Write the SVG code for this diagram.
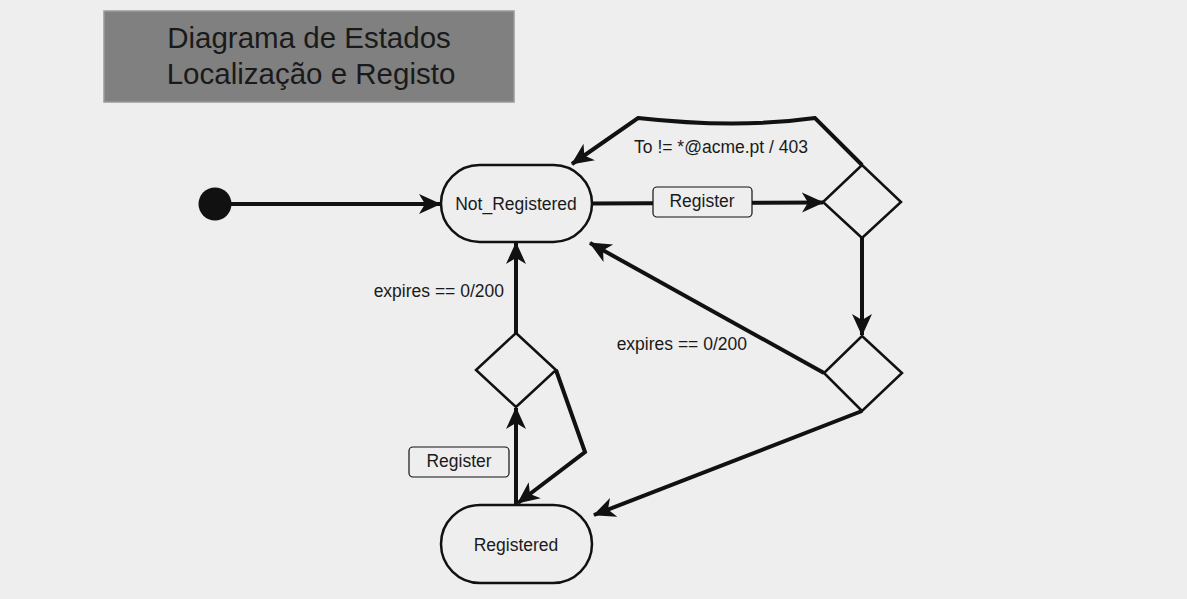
<svg xmlns="http://www.w3.org/2000/svg" width="1187" height="599" viewBox="0 0 1187 599">
<defs>
<style>
text{font-family:"Liberation Sans",Arial,sans-serif;fill:#1a1a1a}
.lbl{font-size:17.5px}
.title{font-size:29.5px;text-anchor:middle}
.state{fill:#eeeeee;stroke:#111;stroke-width:2.5}
.dec{fill:#eeeeee;stroke:#111;stroke-width:2.5}
.tag{fill:#eeeeee;stroke:#111;stroke-width:1.2}
.edge{fill:none;stroke:#111;stroke-width:4;stroke-linejoin:miter}
.arr{marker-end:url(#ah)}
</style>
<marker id="ah" markerUnits="userSpaceOnUse" viewBox="0 0 22 22" refX="21" refY="11" markerWidth="22" markerHeight="22" orient="auto">
<path d="M0,1 L22,11 L0,21 L6,11 Z" fill="#111"/>
</marker>
</defs>
<rect width="1187" height="599" fill="#eeeeee"/>
<g id="title">
<rect x="104" y="11" width="410" height="91" fill="#808080" stroke="#9a9a9a" stroke-width="1.5"/>
<text class="title" x="309" y="48">Diagrama de Estados</text>
<text class="title" x="311" y="84">Localização e Registo</text>
</g>
<g id="connectors">
<path class="edge arr" d="M231,204 L440,204"/>
<path class="edge arr" d="M592,203.5 L823,202.5"/>
<path class="edge arr" d="M862,165 L815,118 Q737,129 638,118 L572,164"/>
<path class="edge arr" d="M862,238 L862,335"/>
<path class="edge arr" d="M824,373 L590,243"/>
<path class="edge arr" d="M862,411 L594,515"/>
<path class="edge arr" d="M516,505 L516,408"/>
<path class="edge arr" d="M556,370 L585,452 L518,503"/>
<path class="edge arr" d="M516,333 L516,243"/>
</g>
<g id="start"><circle cx="215" cy="204" r="16.5" fill="#111"/></g>
<g id="not_registered">
<rect class="state" x="441" y="165" width="151" height="77" rx="38.5"/>
<text class="lbl" x="516" y="210" text-anchor="middle">Not_Registered</text>
</g>
<g id="registered">
<rect class="state" x="441" y="505" width="151" height="78" rx="39"/>
<text class="lbl" x="516" y="551" text-anchor="middle">Registered</text>
</g>
<g id="decision1"><path class="dec" d="M862,165 L901,202 L862,238 L823,202 Z"/></g>
<g id="decision2"><path class="dec" d="M862,336 L902,373 L862,411 L824,373 Z"/></g>
<g id="decision3"><path class="dec" d="M516,333 L556,370 L516,407 L476,370 Z"/></g>
<g id="labels">
<rect class="tag" x="653" y="187" width="99" height="30" rx="4"/>
<text class="lbl" x="702" y="207" text-anchor="middle">Register</text>
<rect class="tag" x="409" y="447" width="100" height="30" rx="4"/>
<text class="lbl" x="459" y="467" text-anchor="middle">Register</text>
<text class="lbl" x="721" y="153" text-anchor="middle">To != *@acme.pt / 403</text>
<text class="lbl" x="747" y="350" text-anchor="end">expires == 0/200</text>
<text class="lbl" x="504" y="297" text-anchor="end">expires == 0/200</text>
</g>
</svg>
